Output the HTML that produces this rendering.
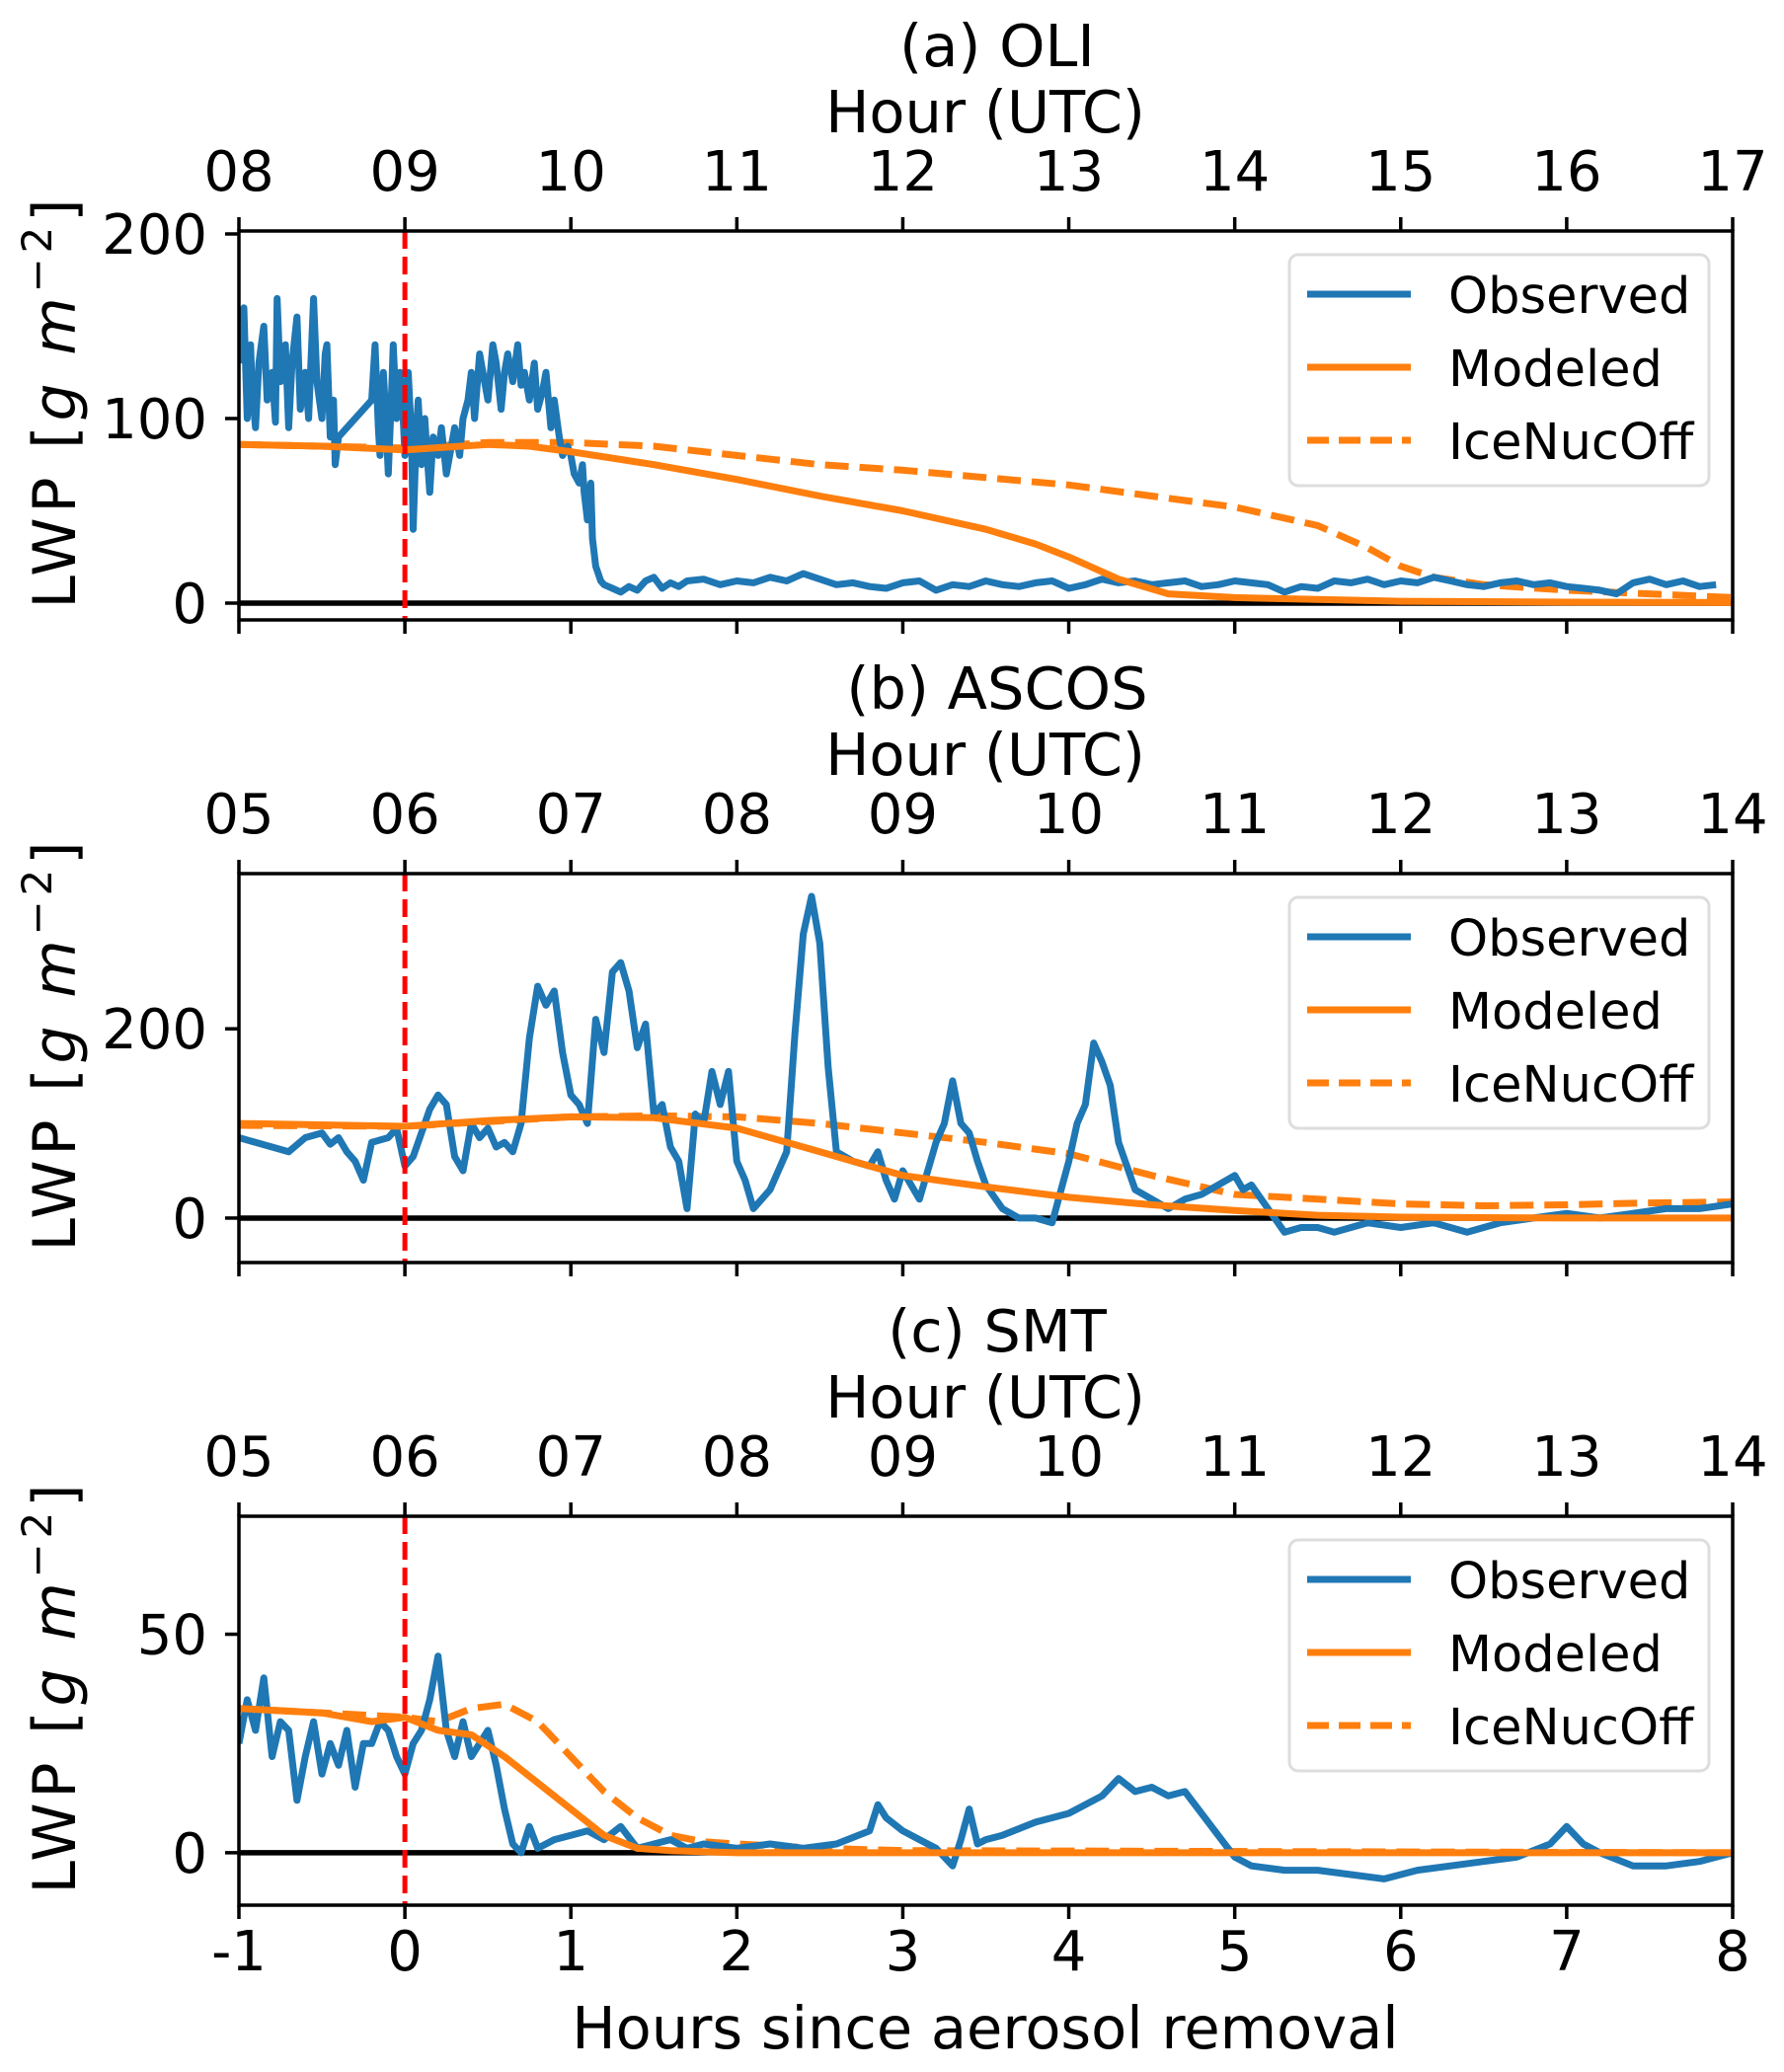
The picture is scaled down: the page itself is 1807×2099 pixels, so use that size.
<!DOCTYPE html>
<html><head><meta charset="utf-8"><style>
html,body{margin:0;padding:0;background:#fff}
svg{display:block}
text{font-family:"DejaVu Sans","Liberation Sans",sans-serif;fill:#000}
</style></head><body>
<svg id="fig" width="1807" height="2099" viewBox="0 0 1807 2099" xmlns="http://www.w3.org/2000/svg"></svg>
<script>
// ---- data ----
const xTickValues = [-1,0,1,2,3,4,5,6,7,8];
const topLabelsA = ["08","09","10","11","12","13","14","15","16","17"];
const topLabelsBC = ["05","06","07","08","09","10","11","12","13","14"];
const panelTitles = ["(a) OLI","(b) ASCOS","(c) SMT"];
const yTicksA = [0,100,200];
const yTicksB = [0,200];
const yTicksC = [0,50];
const yLimA = [-9.1,201.6];
const yLimB = [-47,364];
const yLimC = [-12,77];

const obsA_t = [-1,-0.97,-0.95,-0.93,-0.92,-0.9,-0.88,-0.85,-0.83,-0.8,-0.78,-0.77,-0.75,-0.72,-0.7,-0.68,-0.65,-0.63,-0.6,-0.58,-0.55,-0.53,-0.5,-0.48,-0.47,-0.45,-0.43,-0.42,-0.4,-0.2,-0.18,-0.16,-0.15,-0.13,-0.12,-0.1,-0.08,-0.07,-0.05,-0.03,-0.02,0,0.02,0.04,0.05,0.07,0.08,0.1,0.12,0.13,0.15,0.17,0.2,0.22,0.25,0.28,0.3,0.33,0.35,0.38,0.4,0.42,0.45,0.48,0.5,0.53,0.55,0.58,0.6,0.62,0.65,0.68,0.7,0.72,0.75,0.78,0.8,0.83,0.85,0.88,0.9,0.93,0.95,0.98,1.0,1.02,1.05,1.07,1.08,1.1,1.12,1.13,1.15,1.18,1.2,1.25,1.3,1.35,1.4,1.45,1.5,1.55,1.6,1.65,1.7,1.8,1.9,2.0,2.1,2.2,2.3,2.4,2.5,2.6,2.7,2.8,2.9,3.0,3.1,3.2,3.3,3.4,3.5,3.6,3.7,3.8,3.9,4.0,4.1,4.2,4.3,4.4,4.5,4.6,4.7,4.8,4.9,5.0,5.1,5.2,5.3,5.4,5.5,5.6,5.7,5.8,5.9,6.0,6.1,6.2,6.3,6.4,6.5,6.6,6.7,6.8,6.9,7.0,7.1,7.2,7.3,7.4,7.5,7.6,7.7,7.8,7.9,8.0];
const obsA_v = [130,160,100,140,115,95,130,150,110,125,98,165,120,140,95,130,155,105,125,100,165,120,100,135,140,90,110,75,90,110,140,95,80,125,110,70,115,140,100,125,120,80,125,90,40,95,110,75,100,85,60,90,80,95,70,85,95,80,100,110,125,100,135,120,110,140,130,105,125,135,120,140,118,125,110,130,105,115,125,95,110,90,80,85,80,70,65,75,60,45,65,35,20,12,10,8,6,9,7,12,14,8,11,9,12,13,10,12,11,14,12,16,13,10,11,9,8,11,12,7,10,9,12,10,9,11,12,8,10,13,11,12,10,11,12,9,10,12,11,10,6,9,8,12,11,13,10,12,11,14,12,10,9,11,12,10,11,9,8,7,5,11,13,10,12,9,10];
const modA_t = [-1,-0.5,0,0.5,0.75,1,1.5,2,2.5,3,3.5,3.8,4,4.3,4.6,5,6,7,8];
const modA_v = [86,85,83,86,85,82,75,67,58,50,40,32,25,13,5,3,1,0.5,0.3];
const iceA_t = [-1,0,0.5,1,1.5,2,2.5,3,3.5,4,4.5,5,5.5,5.8,6,6.2,6.5,7,7.5,8];
const iceA_v = [86,84,87,87,85,80,75,72,68,64,58,52,42,30,20,14,10,7,5,3];

const obsB_t = [-1,-0.9,-0.8,-0.7,-0.6,-0.5,-0.45,-0.4,-0.35,-0.3,-0.25,-0.2,-0.1,-0.05,0,0.05,0.1,0.15,0.2,0.25,0.3,0.35,0.4,0.45,0.5,0.55,0.6,0.65,0.7,0.75,0.8,0.85,0.9,0.95,1.0,1.05,1.1,1.15,1.2,1.25,1.3,1.35,1.4,1.45,1.5,1.55,1.6,1.65,1.7,1.72,1.75,1.8,1.85,1.9,1.95,2.0,2.05,2.1,2.2,2.3,2.35,2.4,2.45,2.5,2.55,2.6,2.7,2.8,2.85,2.9,2.95,3.0,3.05,3.1,3.2,3.25,3.3,3.35,3.4,3.45,3.5,3.6,3.7,3.8,3.9,4.0,4.05,4.1,4.15,4.2,4.25,4.3,4.4,4.5,4.6,4.7,4.8,4.9,5.0,5.05,5.1,5.2,5.3,5.4,5.5,5.6,5.8,6.0,6.2,6.4,6.6,6.8,7.0,7.2,7.4,7.6,7.8,8.0];
const obsB_v = [85,80,75,70,85,90,78,85,70,60,40,80,85,95,55,65,90,115,130,120,65,50,100,85,95,75,80,70,100,190,245,225,240,175,130,120,100,210,175,260,270,240,180,205,110,120,75,60,10,50,110,100,155,120,155,60,40,10,30,70,195,300,340,290,160,70,60,55,70,40,20,50,35,20,80,100,145,100,90,60,35,10,0,0,-5,60,100,120,185,165,140,80,30,20,10,20,25,35,45,30,35,10,-15,-10,-10,-15,-5,-10,-5,-15,-5,0,5,0,5,10,10,15];
const modB_t = [-1,0,0.5,1,1.5,2,2.5,3,3.5,4,4.5,5,5.5,6,7,8];
const modB_v = [100,97,103,107,106,95,70,45,33,22,14,8,3,1,0,0];
const iceB_t = [-1,0,0.5,1,1.5,2,2.5,3,3.5,4,4.5,5,5.5,6,6.5,7,7.5,8];
const iceB_v = [98,97,102,107,108,107,100,90,80,68,45,25,20,15,13,14,16,17];

const obsC_t = [-1,-0.95,-0.9,-0.85,-0.8,-0.75,-0.7,-0.65,-0.6,-0.55,-0.5,-0.45,-0.4,-0.35,-0.3,-0.25,-0.2,-0.15,-0.1,-0.05,0,0.05,0.1,0.15,0.2,0.25,0.3,0.35,0.4,0.45,0.5,0.55,0.6,0.65,0.7,0.75,0.8,0.9,1.0,1.1,1.2,1.3,1.4,1.5,1.6,1.7,1.8,2.0,2.2,2.4,2.6,2.8,2.85,2.9,3.0,3.1,3.2,3.3,3.35,3.4,3.45,3.5,3.6,3.8,4.0,4.2,4.3,4.4,4.5,4.6,4.7,4.8,4.9,5.0,5.1,5.3,5.5,5.7,5.9,6.1,6.3,6.5,6.7,6.9,7.0,7.1,7.2,7.4,7.6,7.8,8.0];
const obsC_v = [25,35,28,40,22,30,28,12,22,30,18,25,20,28,15,25,25,30,28,22,18,25,28,35,45,28,22,30,22,25,28,20,10,2,0,6,1,3,4,5,3,6,1,2,3,1,2,1,2,1,2,5,11,8,5,3,1,-3,3,10,2,3,4,7,9,13,17,14,15,13,14,9,4,-1,-3,-4,-4,-5,-6,-4,-3,-2,-1,2,6,2,0,-3,-3,-2,0];
const modC_t = [-1,-0.5,-0.2,0,0.2,0.4,0.6,0.8,1.0,1.2,1.4,1.6,2,8];
const modC_v = [33,32,30,31,28,27,22,16,10,4,1,0.5,0,0];
const iceC_t = [-1,0,0.2,0.4,0.6,0.8,1.0,1.2,1.4,1.6,1.8,2,2.5,3,8];
const iceC_v = [33,31,30,33,34,30,22,14,8,4,2.5,2,1,0.5,0];

// ---- layout ----
const NS = "http://www.w3.org/2000/svg";
const svg = document.getElementById("fig");
const X0 = 242, X1 = 1755;
const panelTops = [234, 885, 1536];
const PH = 394;
const BLUE = "#1f77b4", ORANGE = "#ff7f0e";
function mk(tag, attrs, parent){
  const e = document.createElementNS(NS, tag);
  for (const k in attrs) e.setAttribute(k, attrs[k]);
  (parent||svg).appendChild(e);
  return e;
}
function xScale(t){ return X0 + (t + 1) / 9 * (X1 - X0); }

const panels = [
  {top:topLabelsA, yt:yTicksA, yl:yLimA, obs:[obsA_t,obsA_v], mod:[modA_t,modA_v], ice:[iceA_t,iceA_v]},
  {top:topLabelsBC, yt:yTicksB, yl:yLimB, obs:[obsB_t,obsB_v], mod:[modB_t,modB_v], ice:[iceB_t,iceB_v]},
  {top:topLabelsBC, yt:yTicksC, yl:yLimC, obs:[obsC_t,obsC_v], mod:[modC_t,modC_v], ice:[iceC_t,iceC_v]}
];

panels.forEach((p, i) => {
  const top = panelTops[i], bot = top + PH;
  const yScale = v => bot - (v - p.yl[0]) / (p.yl[1] - p.yl[0]) * PH;
  const g = mk("g", {});
  
  

  const clipId = "clip" + i;
  const cp = mk("clipPath", {id: clipId}, g);
  mk("rect", {x:X0, y:top, width:X1-X0, height:PH}, cp);

  const tt = mk("text", {x:1010, y:top-167, "text-anchor":"middle", "font-size":59}, g);
  tt.textContent = panelTitles[i];
  
  
  const ht = mk("text", {x:998, y:top-100, "text-anchor":"middle", "font-size":59}, g);
  ht.textContent = "Hour (UTC)";
  
  

  xTickValues.forEach((t, k) => {
    const x = xScale(t);
    const tk = mk("line", {x1:x, x2:x, y1:top, y2:top-14, stroke:"#000", "stroke-width":3.5}, g);
    
    
    const lb = mk("text", {x:x, y:top-41, "text-anchor":"middle", "font-size":56}, g);
    lb.textContent = p.top[k];
    
    
    const bk = mk("line", {x1:x, x2:x, y1:bot, y2:bot+14, stroke:"#000", "stroke-width":3.5}, g);
    
    
    if (i === 2) {
      const bl = mk("text", {x:x, y:bot+66, "text-anchor":"middle", "font-size":56}, g);
      bl.textContent = String(t);
      
      
    }
  });
  p.yt.forEach(v => {
    const y = yScale(v);
    const tk = mk("line", {x1:X0, x2:X0-14, y1:y, y2:y, stroke:"#000", "stroke-width":3.5}, g);
    
    
    const lb = mk("text", {x:X0-32, y:y+20, "text-anchor":"end", "font-size":56}, g);
    lb.textContent = String(v);
    
    
  });
  const cy = top + PH/2 - 22;
  const yl = mk("text", {x:0, y:0, "text-anchor":"middle", "font-size":60, textLength:415, lengthAdjust:"spacing", transform:`translate(76,${cy}) rotate(-90)`}, g);
  yl.innerHTML = 'LWP [<tspan font-style="italic">g m</tspan><tspan dy="-24" font-size="42">−2</tspan><tspan dy="24">]</tspan>';
  
  

  const zl = mk("line", {x1:X0, x2:X1, y1:yScale(0), y2:yScale(0), stroke:"#000", "stroke-width":5.5}, g);
  
  

  const dg = mk("g", {"clip-path":`url(#${clipId})`}, g);
  function series(tArr, vArr, color, dash, name){
    let d = "";
    tArr.forEach((t, k) => { d += (k ? "L" : "M") + xScale(t).toFixed(1) + "," + yScale(vArr[k]).toFixed(1); });
    const a = {d:d, fill:"none", stroke:color, "stroke-width":7, "stroke-linejoin":"round"};
    if (dash) a["stroke-dasharray"] = "24,11";
    const pth = mk("path", a, dg);
    
    
  }
  series(p.ice[0], p.ice[1], ORANGE, true, 'icenucoff-line');
  series(p.obs[0], p.obs[1], BLUE, false, 'observed-line');
  series(p.mod[0], p.mod[1], ORANGE, false, 'modeled-line');

  const rl = mk("line", {x1:xScale(0), x2:xScale(0), y1:top, y2:bot, stroke:"#ff0000", "stroke-width":5, "stroke-dasharray":"18,8"}, g);
  
  

  const fr = mk("rect", {x:X0, y:top, width:X1-X0, height:PH, fill:"none", stroke:"#000", "stroke-width":3.5}, g);
  
  

  const lg = mk("g", {transform:`translate(0,${top-234})`}, g);
  
  
  mk("rect", {x:1306, y:258, width:425, height:234, rx:9, fill:"#fff", "fill-opacity":0.85, stroke:"#dddddd", "stroke-width":3}, lg);
  const entries = [["Observed", BLUE, false, 298], ["Modeled", ORANGE, false, 372], ["IceNucOff", ORANGE, true, 446]];
  entries.forEach(en => {
    const a = {x1:1324, x2:1429, y1:en[3], y2:en[3], stroke:en[1], "stroke-width":7};
    if (en[2]) a["stroke-dasharray"] = "22,10";
    const ln = mk("line", a, lg);
    
    
    const tx = mk("text", {x:1467, y:en[3]+19, "font-size":51}, lg);
    tx.textContent = en[0];
    
    
  });
});

const xl = mk("text", {x:998, y:2075, "text-anchor":"middle", "font-size":59});
xl.textContent = "Hours since aerosol removal";


</script>
</body></html>
